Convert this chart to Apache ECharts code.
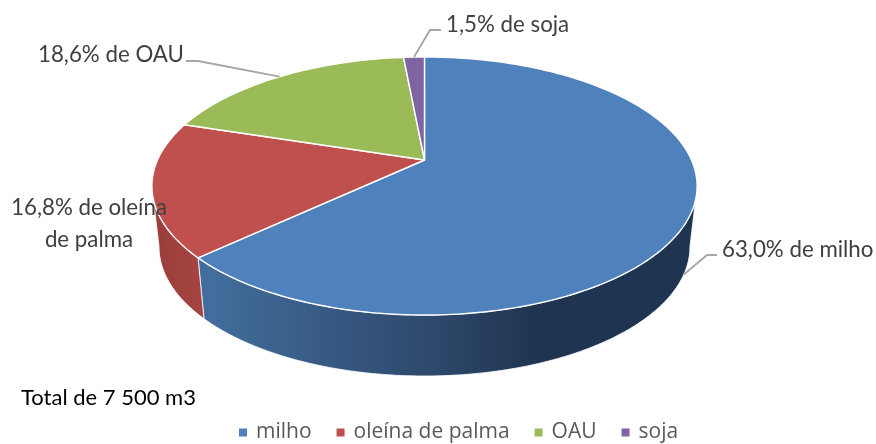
<!DOCTYPE html>
<html>
<head>
<meta charset="utf-8">
<style>
  html, body { margin: 0; padding: 0; background: #fff; }
  #chart { width: 876px; height: 444px; }
</style>
<script src="https://cdn.jsdelivr.net/npm/echarts@6/dist/echarts.min.js"></script>
</head>
<body>
<div id="chart"></div>
<script>
// dados do grafico
const categories = ['milho', 'oleína de palma', 'OAU', 'soja'];
const shares = [63.0, 16.8, 18.6, 1.5];
const colors = ['#4f81bd', '#c0504d', '#9bbb59', '#8064a2'];
const labelLines = [['63,0% de milho'], ['16,8% de oleína', 'de palma'], ['18,6% de OAU'], ['1,5% de soja']];
const totalText = 'Total de 7 500 m3';

// geometria da pizza em perspectiva
const cx = 424.5, cy = 160;
const persp = 0.2016;
const topDisc = { rx: 267, ry: 123.8, dy: 0 };
const baseDisc = { rx: 260, ry: 124, dy: 60.7 };
const wallFrom = 101.6, wallTo = 258.4; // tangentes da silhueta

const total = shares.reduce((a, b) => a + b, 0);
const starts = [];
shares.reduce((acc, v, i) => { starts[i] = acc / total * 360; return acc + v; }, 0);
const ends = starts.map((s, i) => s + shares[i] / total * 360);

function rim(deg, disc) {
  const t = deg * Math.PI / 180;
  const u = Math.sin(t), v = -Math.cos(t);
  const w = 1 - persp * v;
  return [cx + disc.rx * u / w, cy + disc.dy + disc.ry * v / w];
}
function arc(a, b, disc) {
  const pts = [];
  const n = Math.max(2, Math.ceil(Math.abs(b - a)));
  for (let i = 0; i <= n; i++) pts.push(rim(a + (b - a) * i / n, disc));
  return pts;
}

const wallFills = [
  { type: 'linear', x: 0, y: 0, x2: 1, y2: 0, colorStops: [
    { offset: 0, color: '#436f9f' }, { offset: 0.5, color: '#2c4668' },
    { offset: 0.68, color: '#1f3450' }, { offset: 1, color: '#1f3450' }] },
  { type: 'linear', x: 0, y: 0, x2: 1, y2: 0, colorStops: [
    { offset: 0, color: '#993d3a' }, { offset: 1, color: '#a64441' }] }
];

function renderSlice(params) {
  const i = params.seriesIndex;
  const children = [];
  const a = Math.max(starts[i], wallFrom), b = Math.min(ends[i], wallTo);
  if (b > a) {
    const pts = arc(a, b, topDisc).concat(arc(a, b, baseDisc).reverse());
    children.push({ type: 'polygon', shape: { points: pts },
      style: { fill: wallFills[i], stroke: '#fff', lineWidth: 0.8 } });
  }
  const top = [[cx, cy]].concat(arc(starts[i], ends[i], topDisc));
  children.push({ type: 'polygon', shape: { points: top },
    style: { fill: colors[i], stroke: '#fff', lineWidth: 1.4, lineJoin: 'round' } });
  return { type: 'group', children };
}

// rotulos e linhas de chamada
const labelBoxes = [
  { x: 722, y: 250, align: 'left' },
  { x: 89, y: 208, align: 'center' },
  { x: 38, y: 55, align: 'left' },
  { x: 446, y: 25, align: 'left' }
];
const leaders = [
  { disc: baseDisc, elbow: [[707, 255], [717, 255]] },
  null,
  { disc: topDisc, elbow: [[198, 61], [186, 61]] },
  { disc: topDisc, elbow: [[430, 30], [441, 30]] }
];

function renderLabel(params) {
  const i = params.dataIndex;
  const children = [];
  if (leaders[i]) {
    const mid = (starts[i] + ends[i]) / 2;
    children.push({ type: 'polyline',
      shape: { points: [rim(mid, leaders[i].disc)].concat(leaders[i].elbow) },
      style: { fill: 'none', stroke: '#a6a6a6', lineWidth: 1.8 } });
  }
  labelLines[i].forEach((line, k) => {
    children.push({ type: 'text', x: labelBoxes[i].x, y: labelBoxes[i].y + k * 32,
      style: { text: line, fill: '#404040', font: '22.3px Lato', align: labelBoxes[i].align, verticalAlign: 'middle' } });
  });
  return { type: 'group', children };
}

const series = categories.map((name, i) => ({
  name,
  type: 'custom',
  coordinateSystem: 'none',
  itemStyle: { color: colors[i] },
  renderItem: renderSlice,
  silent: true,
  data: [shares[i]]
}));
series.push({
  name: 'rotulos',
  type: 'custom',
  coordinateSystem: 'none',
  renderItem: renderLabel,
  silent: true,
  z: 5,
  data: shares
});

const chart = echarts.init(document.getElementById('chart'));
chart.setOption({
  animation: false,
  backgroundColor: '#fff',
  title: {
    text: totalText,
    left: 21, top: 387, padding: 0,
    textStyle: { fontFamily: 'Lato', fontSize: 22, fontWeight: 'normal', color: '#000' }
  },
  legend: {
    data: categories,
    left: 239, top: 422,
    padding: 0,
    icon: 'rect',
    itemWidth: 8, itemHeight: 8,
    itemGap: 25,
    selectedMode: false,
    textStyle: { fontFamily: 'Open Sans', fontSize: 21, color: '#595959', padding: [0, 0, 0, 4] }
  },
  series
});
</script>
</body>
</html>
